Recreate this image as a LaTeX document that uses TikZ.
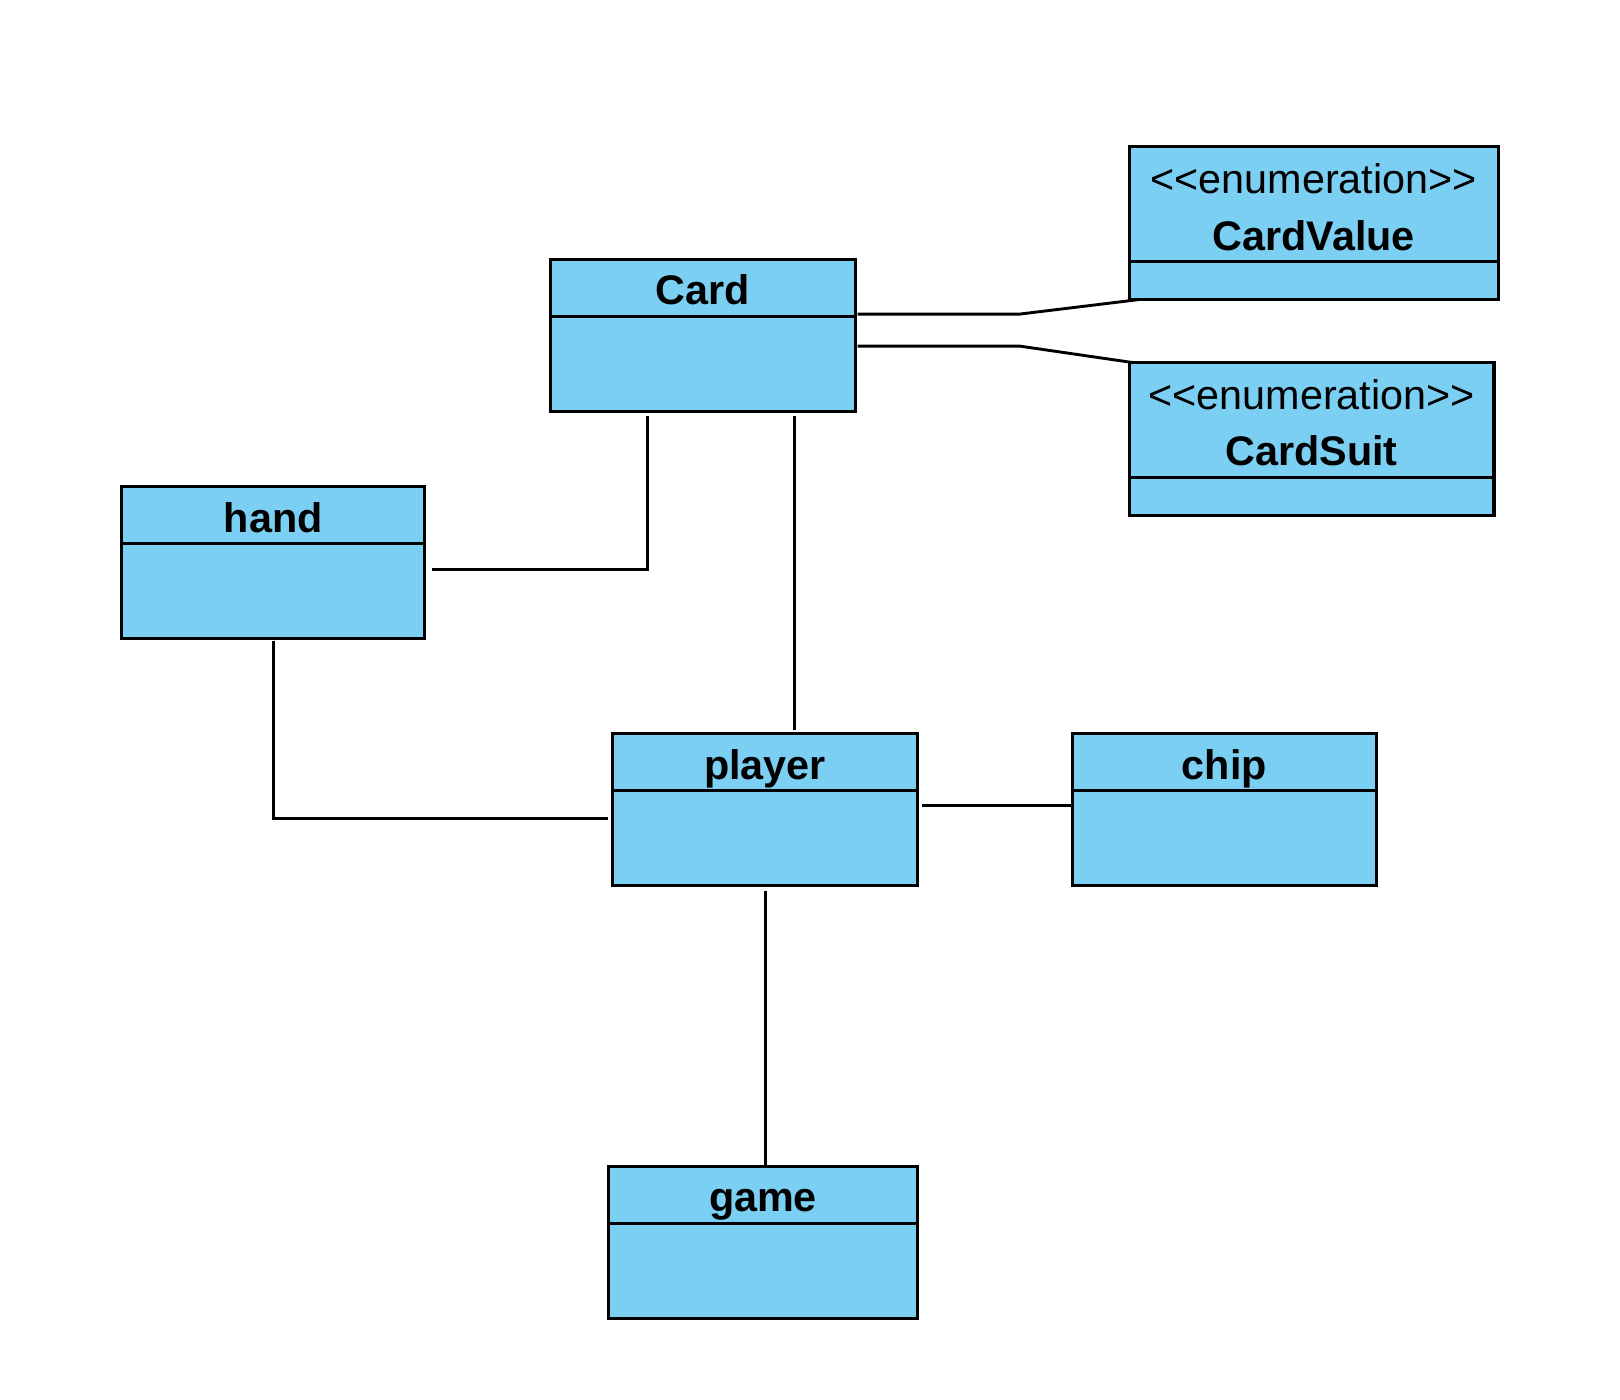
\documentclass[tikz,border=0pt]{standalone}
\usepackage{fontspec}
\setmainfont{Liberation Sans}
\usetikzlibrary{positioning}
\definecolor{classBlue}{RGB}{122,207,243}
\tikzset{
    classBox/.style={draw, line width=1.5pt, fill=classBlue, inner sep=0pt, outer sep=0pt}, % sets the look of each class box
    classHead/.style={classBox, minimum width=#1, minimum height=27.5pt, text height=16.5pt, text depth=0pt, font=\bfseries\fontsize{20}{24}\selectfont}, % name part
    classBody/.style={classBox, minimum width=#1, minimum height=46pt}, % empty part below the name
    enumHead/.style={classBox, minimum width=#1, minimum height=55.5pt, align=center, text height=44.5pt, text depth=0pt, font=\bfseries\fontsize{20}{27.5}\selectfont}, % stereotype and name
    enumBody/.style={classBox, minimum width=#1, minimum height=18.5pt},
    link/.style={line width=1.4pt}, % plain association lines
}
\newcommand{\enumTag}{{\mdseries\fontsize{20}{27.5}\selectfont <{}<enumeration>{}>}}
\begin{document}
\begin{tikzpicture}[
                                x=0.5pt, y=0.5pt,
                                node distance=0pt,
                            ]
                            \useasboundingbox (0,0) rectangle (1568,-1355);
                            \node[classHead=147.5pt] (card) at (680.5,-278.5) {Card};
                            \node[classBody=147.5pt, below=of card] (cardb) {};
                            \node[enumHead=178.5pt] (value) at (1271.5,-197.5) {\enumTag\\CardValue};
                            \node[enumBody=178.5pt, below=of value] (valueb) {};
                            \node[enumHead=176.5pt] (suit) at (1269.5,-406.5) {\enumTag\\CardSuit};
                            \node[enumBody=176.5pt, below=of suit] (suitb) {};
                            \node[classHead=146.5pt] (hand) at (264.5,-498.5) {hand};
                            \node[classBody=146.5pt, below=of hand] (handb) {};
                            \node[classHead=147.5pt] (player) at (740.5,-737.5) {player};
                            \node[classBody=147.5pt, below=of player] (playerb) {};
                            \node[classHead=147pt] (chip) at (1185,-737.5) {chip};
                            \node[classBody=147pt, below=of chip] (chipb) {};
                            \node[classHead=149.5pt] (game) at (738.5,-1156.5) {game};
                            \node[classBody=149.5pt, below=of game] (gameb) {};
                            \draw[link]
                            ([xshift=1pt,yshift=1pt]card.south east) -- ++(78.5pt,0) -- ([xshift=4.5pt]valueb.south west);
                            \draw[link]
                            ([xshift=1pt,yshift=8.5pt]cardb.east) -- ++(78.5pt,0) -- ([xshift=2pt]suit.north west);
                            \draw[link]
                            ([xshift=3.5pt,yshift=10.5pt]handb.east) -| ([xshift=-26.75pt,yshift=-2.5pt]cardb.south);
                            \draw[link]
                            ([xshift=44.25pt,yshift=-2.5pt]cardb.south) -- ([xshift=14.25pt,yshift=1.5pt]player.north);
                            \draw[link]
                            ([yshift=-1pt]handb.south) |- ([xshift=-2.5pt,yshift=9.5pt]playerb.west);
                            \draw[link]
                            ([xshift=2pt,yshift=15.5pt]playerb.east) -- ([yshift=15.5pt]chipb.west);
                            \draw[link]
                            ([yshift=-2.5pt]playerb.south) -- ([xshift=1pt]game.north);
                        \end{tikzpicture}
\end{document}
